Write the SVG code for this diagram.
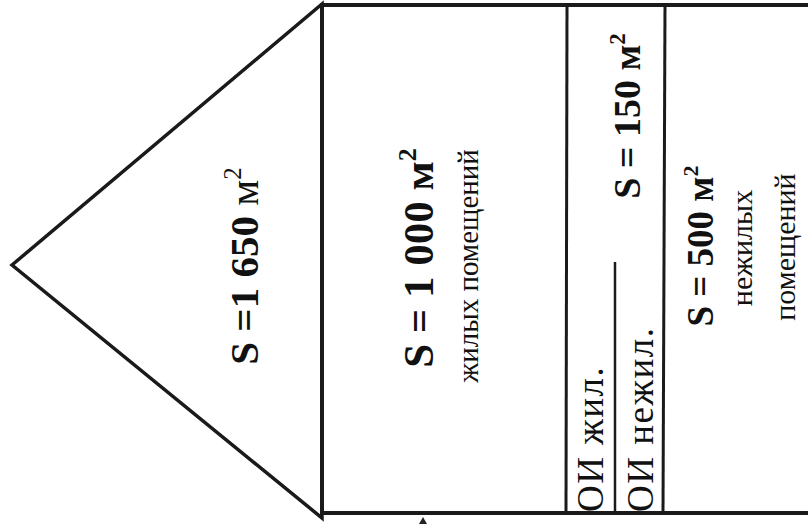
<svg xmlns="http://www.w3.org/2000/svg" width="808" height="524" viewBox="0 0 808 524">
<style>
  .ln { fill: none; stroke: #1a1a1a; stroke-linejoin: miter; }
  text { font-family: 'Liberation Serif', 'Times New Roman', 'DejaVu Serif', serif; fill: #111; }
  .b { font-weight: bold; }
</style>
<rect x="0" y="0" width="808" height="524" fill="#ffffff"/>
<g id="roof">
  <polygon class="ln" stroke-width="3.5" points="12,265 322,4 322,518"/>
  <text class="b" font-size="41" text-anchor="middle" transform="translate(258,266) rotate(-90)">S =1 650 <tspan font-weight="normal">м</tspan><tspan font-weight="normal" font-size="25" dy="-17">2</tspan></text>
</g>
<g id="building">
  <polyline class="ln" stroke-width="4" points="808,5 322,5 322,513 808,513"/>
</g>
<g id="connectors">
  <line class="ln" stroke-width="3" x1="567" y1="5" x2="566" y2="513"/>
  <line class="ln" stroke-width="3" x1="665" y1="5" x2="663" y2="513"/>
  <line class="ln" stroke-width="2.5" x1="615" y1="262" x2="615" y2="513"/>
  <polygon points="419,524 423,517 427,524" fill="#222"/>
</g>
<g id="residential">
  <text class="b" font-size="43" text-anchor="middle" transform="translate(433,258) rotate(-90)">S = 1 000 м<tspan font-size="26" dy="-17">2</tspan></text>
  <text font-size="29" text-anchor="middle" transform="translate(478,266) rotate(-90)">жилых помещений</text>
</g>
<g id="common">
  <text font-size="37" letter-spacing="1.5" text-anchor="start" transform="translate(603,512) rotate(-90)">ОИ жил.</text>
  <text font-size="37" letter-spacing="1.5" text-anchor="start" transform="translate(653,512) rotate(-90)">ОИ нежил.</text>
  <text class="b" font-size="38" text-anchor="middle" transform="translate(640,116) rotate(-90)">S = 150 м<tspan font-size="23" dy="-15">2</tspan></text>
</g>
<g id="nonresidential">
  <text class="b" font-size="37" text-anchor="middle" transform="translate(713,246) rotate(-90)">S = 500 м<tspan font-size="22" dy="-15">2</tspan></text>
  <text font-size="30" text-anchor="middle" transform="translate(752,248) rotate(-90)">нежилых</text>
  <text font-size="30" text-anchor="middle" transform="translate(795,247) rotate(-90)">помещений</text>
</g>
</svg>
